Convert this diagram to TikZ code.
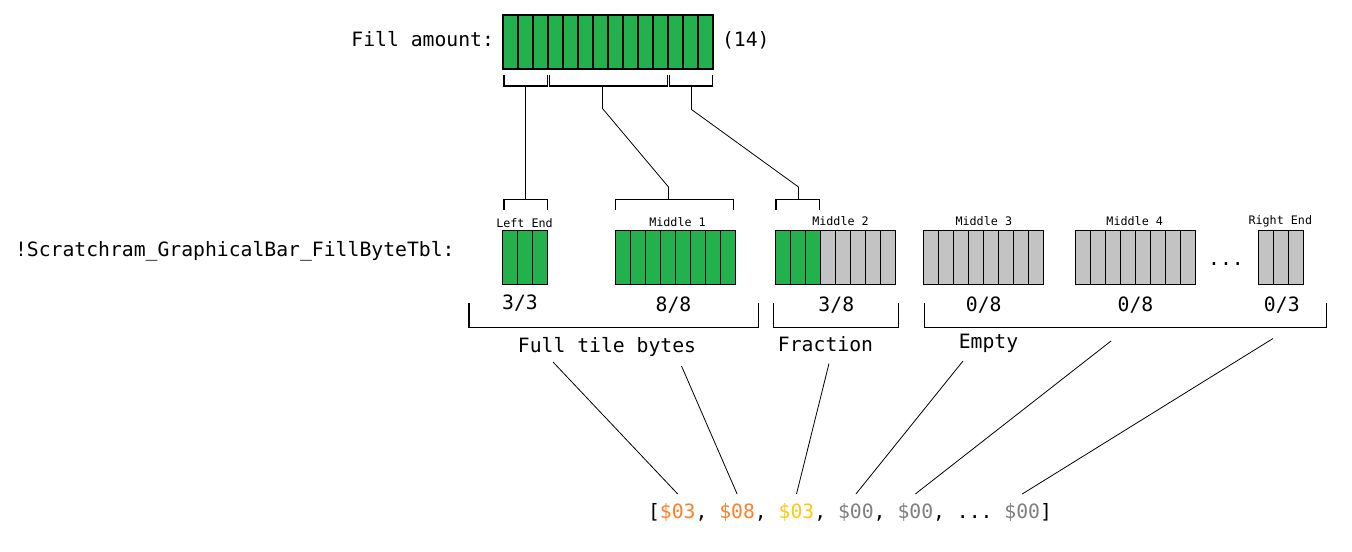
\documentclass[tikz,border=0pt]{standalone}
\usepackage{fontspec}
\setmonofont{DejaVu Sans Mono}
\usetikzlibrary{calc}

\definecolor{barfull}{RGB}{34,177,76}
\definecolor{barempty}{RGB}{195,195,195}
\definecolor{byteorange}{RGB}{255,127,39}
\definecolor{byteyellow}{RGB}{255,201,14}
\definecolor{bytegray}{RGB}{127,127,127}

\tikzset{
  bigtxt/.style={font={\ttfamily\fontsize{14.8}{17}\selectfont}, inner sep=0pt, outer sep=0pt, anchor=base},
  smalltxt/.style={font={\ttfamily\fontsize{8.8}{10}\selectfont}, inner sep=0pt, outer sep=0pt, anchor=base},
  bytetxt/.style={bigtxt, inner ysep=7pt, anchor=base west},
  cellbox/.style={draw=black, line width=1.2pt},
  brace/.style={draw=black, line width=0.8pt},
  link/.style={draw=black, line width=0.6pt}
}

% \tilerow{name}{left x}{top y}{cells}{filled cells}
\newcommand{\tilerow}[5]{%
  \foreach \i in {1,...,#4} {
    \pgfmathsetmacro{\cx}{#2+15*(\i-1)}
    \ifnum\i>#5 \def\cellcol{barempty}\else\def\cellcol{barfull}\fi
    \filldraw[cellbox, fill=\cellcol] (\cx,#3) rectangle ++(15,54);
  }
}
% one blank character of the mono font
\newcommand{\gap}{\phantom{0}}

\begin{document}
\begin{tikzpicture}[x=0.75pt, y=-0.75pt]
    \useasboundingbox (0,0) rectangle (1352,551);

    % Fill amount bar
    \node[bigtxt, anchor=base east] (fillname) at (494,46.7) {Fill amount:};
    \tilerow{bar}{503}{15}{14}{14}
    \node[bigtxt, anchor=base west] (fillnum) at (722,46.7) {(14)};

    % Brackets under the bar
    \draw[brace] (504,75) -- (504,86) -- (547.5,86) -- (547.5,75);
    \draw[brace] (549.5,75) -- (549.5,86) -- (667.5,86) -- (667.5,75);
    \draw[brace] (669.5,75) -- (669.5,86) -- (712.5,86) -- (712.5,75);
    \coordinate (s1) at (525.5,86);
    \coordinate (s2) at (602.5,86);
    \coordinate (s3) at (691.5,86);

    % Brackets over the tiles
    \draw[brace] (504,210) -- (504,199.5) -- (547.5,199.5) -- (547.5,210);
    \draw[brace] (615.5,210) -- (615.5,199.5) -- (733.5,199.5) -- (733.5,210);
    \draw[brace] (776,210) -- (776,199.5) -- (819.5,199.5) -- (819.5,210);
    \coordinate (t1) at (525.5,199.5);
    \coordinate (t2) at (668.5,199.5);
    \coordinate (t3) at (798.5,199.5);

    % Links from bar to tiles
    \draw[link] (s1) -- (t1);
    \draw[link] (s2) -- ++(0,22.5) -- ($(t2)+(0,-12.5)$) -- (t2);
    \draw[link] (s3) -- ++(0,23.5) -- ($(t3)+(0,-12.5)$) -- (t3);

    % Table name
    \node[bigtxt, anchor=base west] (tblname) at (15,256) {!Scratchram\_GraphicalBar\_FillByteTbl:};

    % Tiles
    \tilerow{left}{502.5}{230.5}{3}{3}
    \tilerow{mid1}{615.5}{230.5}{8}{8}
    \tilerow{mid2}{775.5}{230.5}{8}{3}
    \tilerow{mid3}{923.5}{230.5}{8}{0}
    \tilerow{mid4}{1075.5}{230.5}{8}{0}
    \tilerow{right}{1258.5}{230.5}{3}{0}
    \node[bigtxt] (dots) at (1226,265) {...};

    % Tile names
    \node[smalltxt] (nleft) at (524.5,227.5) {Left End};
    \node[smalltxt] (nmid1) at (677.5,226) {Middle 1};
    \node[smalltxt] (nmid2) at (840.5,225.7) {Middle 2};
    \node[smalltxt] (nmid3) at (983.8,225.7) {Middle 3};
    \node[smalltxt] (nmid4) at (1134.7,225) {Middle 4};
    \node[smalltxt] (nright) at (1280.3,224) {Right End};

    % Fill per tile
    \node[bigtxt] (fleft) at (520,309.5) {3/3};
    \node[bigtxt] (fmid1) at (673.5,311.5) {8/8};
    \node[bigtxt] (fmid2) at (836.3,311) {3/8};
    \node[bigtxt] (fmid3) at (983.7,311) {0/8};
    \node[bigtxt] (fmid4) at (1135.5,311) {0/8};
    \node[bigtxt] (fright) at (1281.8,311) {0/3};

    % Group brackets
    \draw[brace] (469,303) -- (469,327.5) -- (758.5,327.5) -- (758.5,303);
    \draw[brace] (773.5,303) -- (773.5,327.5) -- (898.5,327.5) -- (898.5,303);
    \draw[brace] (924.5,303) -- (924.5,327.5) -- (1326.5,327.5) -- (1326.5,303);
    \node[bigtxt] (gfull) at (607,352.7) {Full tile bytes};
    \node[bigtxt] (gfrac) at (825.5,351.7) {Fraction};
    \node[bigtxt] (gempty) at (988.5,348.3) {Empty};

    % Byte table
    \node[bytetxt] (lb) at (648,518.3) {[};
    \node[bytetxt, text=byteorange] (b1) at (lb.base east) {\$03};
    \node[bytetxt] (c1) at (b1.base east) {,\gap};
    \node[bytetxt, text=byteorange] (b2) at (c1.base east) {\$08};
    \node[bytetxt] (c2) at (b2.base east) {,\gap};
    \node[bytetxt, text=byteyellow] (b3) at (c2.base east) {\$03};
    \node[bytetxt] (c3) at (b3.base east) {,\gap};
    \node[bytetxt, text=bytegray] (b4) at (c3.base east) {\$00};
    \node[bytetxt] (c4) at (b4.base east) {,\gap};
    \node[bytetxt, text=bytegray] (b5) at (c4.base east) {\$00};
    \node[bytetxt] (c5) at (b5.base east) {,\gap...\gap};
    \node[bytetxt, text=bytegray] (b6) at (c5.base east) {\$00};
    \node[bytetxt] (rb) at (b6.base east) {]};

    % Links from groups to bytes
    \coordinate (u1) at (553,362);
    \coordinate (u2) at (681.5,366);
    \coordinate (u3) at (829,363.5);
    \coordinate (u4) at (963,361);
    \coordinate (u5) at (1111,341);
    \coordinate (u6) at (1273,338.5);
    \draw[link] (u1) -- (b1.north);
    \draw[link] (u2) -- (b2.north);
    \draw[link] (u3) -- (b3.north);
    \draw[link] (u4) -- (b4.north);
    \draw[link] (u5) -- (b5.north);
    \draw[link] (u6) -- (b6.north);
\end{tikzpicture}
\end{document}
